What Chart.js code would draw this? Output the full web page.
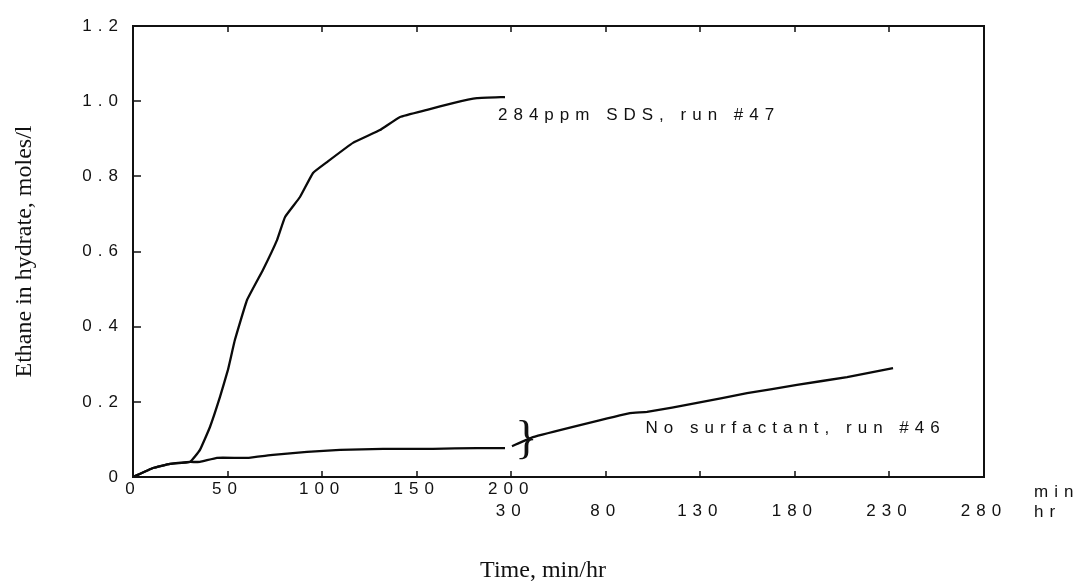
<!DOCTYPE html>
<html>
<head>
<meta charset="utf-8">
<script src="https://cdn.jsdelivr.net/npm/chart.js@4.4.1/dist/chart.umd.min.js"></script>
<style>
  html, body { margin: 0; padding: 0; background: #fff; }
</style>
</head>
<body>
<canvas id="hydrateChart" width="1078" height="584"></canvas>
<script>
// run #47, 284 ppm SDS (time in min)
const sdsMin = [0, 10.6, 19.6, 30.1, 35.4, 40.7, 46.0, 50.2, 53.9, 60.3, 68.7, 76.2, 80.4, 88.3, 95.2, 102.6, 116.3, 130.6, 141.2, 155.5, 169.2, 181.9, 196.7];
const sdsEthane = [0, 0.024, 0.035, 0.040, 0.072, 0.133, 0.213, 0.285, 0.365, 0.471, 0.551, 0.631, 0.692, 0.745, 0.809, 0.838, 0.889, 0.923, 0.958, 0.977, 0.995, 1.008, 1.011];

// run #46, no surfactant: first 200 min ...
const noSurfMin = [0, 10.6, 19.6, 30.1, 35.4, 44.4, 60.3, 74.0, 92.0, 109.5, 132.2, 158.6, 181.9, 196.7];
const noSurfMinEthane = [0, 0.024, 0.035, 0.040, 0.040, 0.051, 0.051, 0.059, 0.067, 0.072, 0.075, 0.075, 0.077, 0.077];
// ... then carried on in hours
const noSurfHr = [30.4, 41.5, 66.4, 92.8, 101.8, 128.3, 154.7, 181.1, 207.6, 231.9];
const noSurfHrEthane = [0.082, 0.106, 0.138, 0.170, 0.173, 0.197, 0.223, 0.245, 0.266, 0.290];

const minTicks = [0, 50, 100, 150, 200];
const hrTicks = [30, 80, 130, 180, 230, 280];
const yTicks = [0, 0.2, 0.4, 0.6, 0.8, 1.0, 1.2];

// hour scale picks up where the minute scale stops: 30 hr sits on 200 min
const HR_SHIFT = 200 - 30;

const notes = [
    { text: '284ppm SDS, run #47', at: [193, 0.963] },
    { text: 'No surfactant, run #46', at: [271, 0.130] }
];

const tickFont = { family: '"Liberation Sans", Arial, sans-serif', size: 17, lineHeight: 1.25 };
const serif = '"Liberation Serif", "Times New Roman", serif';
const ink = '#111';

function pts(xs, ys, shift) {
    return xs.map((v, i) => ({ x: v + (shift || 0), y: ys[i] }));
}

const paperLook = {
    id: 'paperLook',
    beforeUpdate(chart) { chart.ctx.letterSpacing = '6px'; },
    beforeDraw(chart) { chart.ctx.letterSpacing = '6px'; },
    afterDraw(chart) {
        const { ctx, chartArea: a, scales: { x, y } } = chart;
        ctx.save();
        ctx.strokeStyle = ink;
        ctx.lineWidth = 2;
        ctx.strokeRect(a.left, a.top, a.right - a.left, a.bottom - a.top);

        // small inward tick marks
        ctx.lineWidth = 1.5;
        ctx.beginPath();
        x.ticks.forEach(t => {
            const px = Math.round(x.getPixelForValue(t.value));
            if (px <= a.left + 1 || px >= a.right - 1) return;
            ctx.moveTo(px, a.bottom); ctx.lineTo(px, a.bottom - 6);
            ctx.moveTo(px, a.top); ctx.lineTo(px, a.top + 6);
        });
        y.ticks.forEach(t => {
            const py = Math.round(y.getPixelForValue(t.value));
            if (py <= a.top + 1 || py >= a.bottom - 1) return;
            ctx.moveTo(a.left, py); ctx.lineTo(a.left + 8, py);
        });
        ctx.stroke();

        ctx.fillStyle = ink;

        // curve labels
        ctx.font = '17px ' + tickFont.family;
        ctx.letterSpacing = '6px';
        ctx.textAlign = 'left';
        ctx.textBaseline = 'middle';
        notes.forEach(n => {
            ctx.fillText(n.text, x.getPixelForValue(n.at[0]), y.getPixelForValue(n.at[1]));
        });

        // unit names next to the two tick rows
        ctx.fillText('min', a.right + 50, a.bottom + 15);
        ctx.fillText('hr', a.right + 50, a.bottom + 35);

        // axis break
        ctx.letterSpacing = '0px';
        ctx.font = '46px ' + serif;
        ctx.textAlign = 'center';
        ctx.fillText('}', x.getPixelForValue(208), y.getPixelForValue(0.095));

        // axis titles
        ctx.font = '24px ' + serif;
        ctx.fillText('Time, min/hr', 543, 571);
        ctx.translate(25, (a.top + a.bottom) / 2);
        ctx.rotate(-Math.PI / 2);
        ctx.fillText('Ethane in hydrate, moles/l', 0, 0);
        ctx.restore();
    }
};

const ctx = document.getElementById('hydrateChart').getContext('2d');
const hydrateChart = new Chart(ctx, {
    type: 'line',
    data: {
        datasets: [
            { label: '284ppm SDS, run #47', data: pts(sdsMin, sdsEthane) },
            { label: 'No surfactant, run #46 (min)', data: pts(noSurfMin, noSurfMinEthane) },
            { label: 'No surfactant, run #46 (hr)', data: pts(noSurfHr, noSurfHrEthane, HR_SHIFT) }
        ]
    },
    options: {
        responsive: false,
        animation: false,
        layout: { padding: { top: 26, right: 94, left: 0, bottom: 0 } },
        plugins: {
            legend: { display: false },
            tooltip: { enabled: false }
        },
        elements: {
            point: { radius: 0 },
            line: { borderWidth: 2.3, borderColor: '#0a0a0a', tension: 0.1, fill: false }
        },
        scales: {
            x: {
                type: 'linear',
                min: 0,
                max: 450,
                afterBuildTicks: s => {
                    const vals = minTicks.concat(hrTicks.map(h => h + HR_SHIFT));
                    s.ticks = [...new Set(vals)].sort((p, q) => p - q).map(v => ({ value: v }));
                },
                afterFit: s => { s.height = 107; },
                grid: { display: false, drawTicks: false },
                border: { display: false },
                ticks: {
                    autoSkip: false,
                    maxRotation: 0,
                    padding: 2,
                    color: ink,
                    font: tickFont,
                    callback: v => [
                        minTicks.includes(v) ? String(v) : '',
                        hrTicks.includes(v - HR_SHIFT) ? String(v - HR_SHIFT) : ''
                    ]
                }
            },
            y: {
                min: 0,
                max: 1.2,
                afterBuildTicks: s => { s.ticks = yTicks.map(v => ({ value: v })); },
                afterFit: s => { s.width = 133; },
                grid: { display: false, drawTicks: false },
                border: { display: false },
                ticks: {
                    padding: 9,
                    color: ink,
                    font: tickFont,
                    callback: v => v === 0 ? '0' : v.toFixed(1)
                }
            }
        }
    },
    plugins: [paperLook]
});
</script>
</body>
</html>
